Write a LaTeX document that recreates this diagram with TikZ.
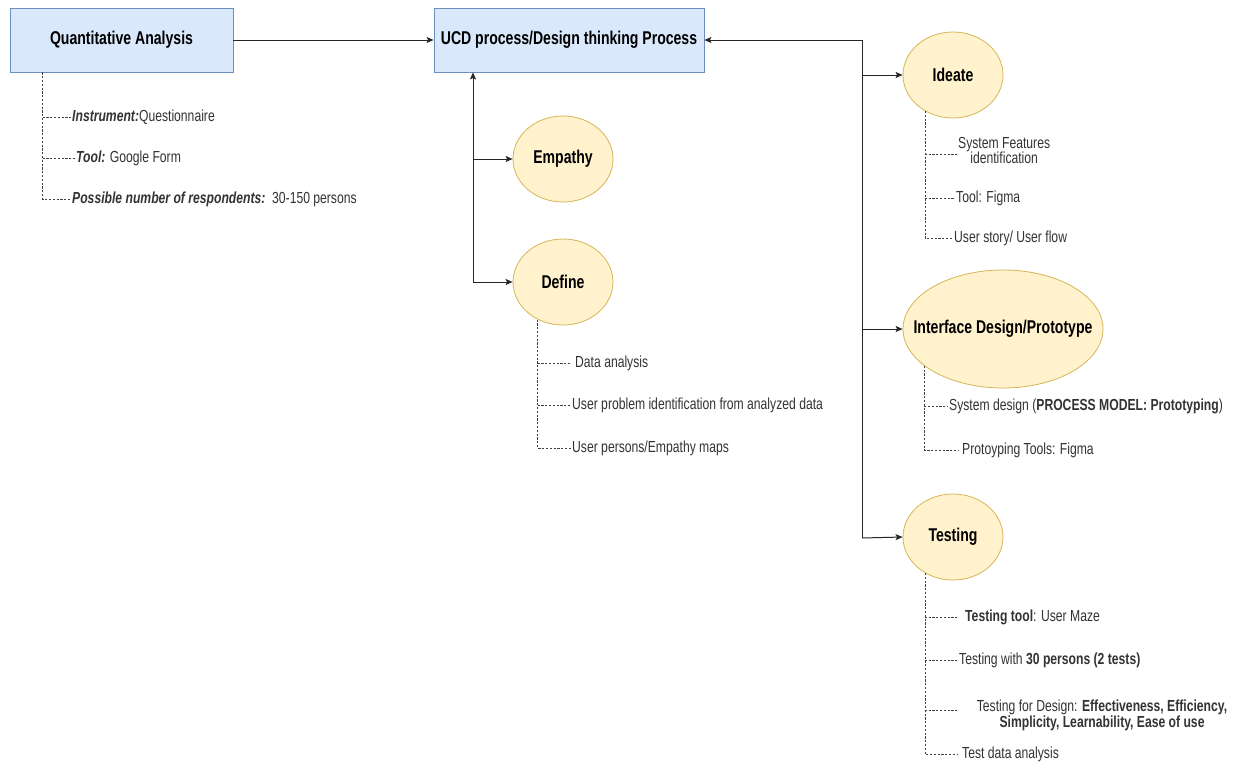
\documentclass[tikz,border=0pt]{standalone}
\usepackage{fontspec}
\setmainfont{Liberation Sans}[FakeStretch=0.76]
\usetikzlibrary{shapes.geometric,arrows.meta}
\definecolor{bfill}{HTML}{DAE8FC}
\definecolor{bdraw}{HTML}{6C8EBF}
\definecolor{efill}{HTML}{FFF2CC}
\definecolor{edraw}{HTML}{D6B656}
\definecolor{txt}{HTML}{333333}
\begin{document}
\begin{tikzpicture}[x=1pt,y=-1pt,
 box/.style={draw=bdraw,fill=bfill,line width=0.8pt,minimum width=#1,minimum height=64pt,inner sep=0pt,font=\fontsize{18.5}{22}\selectfont\bfseries},
 ell/.style={ellipse,draw=edraw,fill=efill,line width=0.8pt,inner sep=0pt,font=\fontsize{18.5}{22}\selectfont\bfseries},
 arr/.style={draw=black!85,line width=1pt,-{Stealth[length=7pt,width=6pt,inset=1.5pt]}},
 dsh/.style={draw=black!75,dash pattern=on 2.2pt off 1.6pt,line width=0.7pt},
 lbl/.style={anchor=west,inner sep=1pt,text=txt,font=\fontsize{16}{15}\selectfont}]
\useasboundingbox[fill=white] (0,0) rectangle (1236,763);

% main boxes
\node[box=223pt] (qa) at (121.5,40) {Quantitative Analysis};
\node[box=270pt] (ucd) at (569,40) {UCD process/Design thinking Process};

% ellipses
\node[ell,minimum width=100pt,minimum height=86pt] (emp) at (563,159) {Empathy};
\node[ell,minimum width=100pt,minimum height=86pt] (def) at (563,282) {Define};
\node[ell,minimum width=100pt,minimum height=86pt] (ide) at (953,75) {Ideate};
\node[ell,inner xsep=-30pt,minimum width=200pt,minimum height=118pt] (idp) at (1003,329) {Interface Design/Prototype};
\node[ell,minimum width=100pt,minimum height=86pt] (tst) at (953,537) {Testing};

% trunk coordinates
\coordinate (tL) at (473,282);
\coordinate (tR) at (862,538);

% connectors
\draw[arr] (qa.east) -- (ucd.west);
\draw[arr] (tL) -- (tL |- ucd.south);
\draw[arr] (tL |- emp.west) -- (emp.west);
\draw[arr] (tL) -- (def.west);
\draw[arr] (tR) -- (tR |- ucd.east) -- (ucd.east);
\draw[arr] (tR |- ide.west) -- (ide.west);
\draw[arr] (tR |- idp.west) -- (idp.west);
\draw[arr] (tR) -- (tst.west);

% Quantitative analysis details
\node[lbl] (q1) at (71,117) {\textbf{\textit{Instrument:}}Questionnaire};
\node[lbl] (q2) at (75,158) {\textbf{\textit{Tool:}} Google Form};
\node[lbl] (q3) at (71,199) {\textbf{\textit{Possible number of respondents:}}\ \ 30-150 persons};
\coordinate (qv) at ([xshift=33pt]qa.south west);
\draw[dsh] (qv) |- (q3.west);
\draw[dsh] (qv |- q1.west) -- (q1.west);
\draw[dsh] (qv |- q2.west) -- (q2.west);

% Define details
\node[lbl] (d1) at (574,363) {Data analysis};
\node[lbl] (d2) at (571,405) {User problem identification from analyzed data};
\node[lbl] (d3) at (571,448) {User persons/Empathy maps};
\coordinate (dv) at (def.-124);
\draw[dsh] (dv) |- (d3.west);
\draw[dsh] (dv |- d1.west) -- ([xshift=-4pt]d1.west);
\draw[dsh] (dv |- d2.west) -- (d2.west);

% Ideate details
\node[lbl,align=center] (i1) at (957,150) {System Features\\identification};
\node[lbl] (i2) at (955,198) {Tool: Figma};
\node[lbl] (i3) at (953,238) {User story/ User flow};
\coordinate (iv) at (ide.-128);
\draw[dsh] (iv) |- (i3.west);
\draw[dsh] (iv |- 0,154) -- ([yshift=-4pt]i1.west);
\draw[dsh] (iv |- i2.west) -- (i2.west);

% Interface design details
\node[lbl] (p1) at (948,406) {System design (\textbf{PROCESS MODEL: Prototyping})};
\node[lbl] (p2) at (961,450) {Protoyping Tools: Figma};
\coordinate (pv) at (idp.-155);
\draw[dsh] (pv) |- ([xshift=-3pt]p2.west);
\draw[dsh] (pv |- p1.west) -- (p1.west);

% Testing details
\node[lbl] (t1) at (964,617) {\textbf{Testing tool}: User Maze};
\node[lbl] (t2) at (958,660) {Testing with \textbf{30 persons (2 tests)}};
\node[lbl,anchor=center,align=center,font=\fontsize{16}{14.5}\selectfont] (t3) at (1102,715) {Testing for Design: \textbf{Effectiveness, Efficiency,}\\\textbf{Simplicity, Learnability, Ease of use}};
\node[lbl] (t4) at (961,754) {Test data analysis};
\coordinate (tv) at (tst.-128);
\draw[dsh] (tv) |- ([xshift=-3pt]t4.west);
\draw[dsh] (tv |- t1.west) -- ([xshift=-7pt]t1.west);
\draw[dsh] (tv |- t2.west) -- (t2.west);
\draw[dsh] (tv |- 0,710) -- (959,710);
\end{tikzpicture}
\end{document}
